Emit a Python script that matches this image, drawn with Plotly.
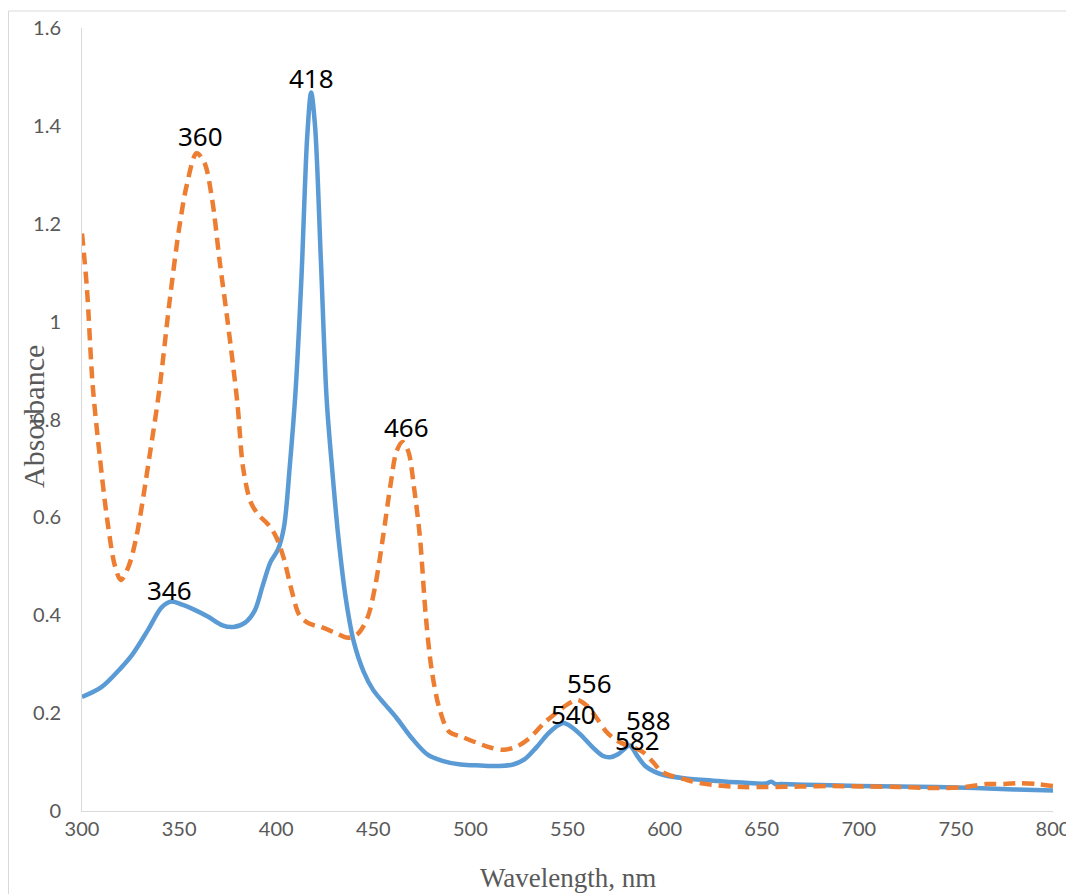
import plotly.graph_objects as go

# ---- data ----
blue_x = [300, 310, 320, 326, 334, 341, 346, 352, 358, 365, 372, 378, 384, 389, 393, 397, 401, 404, 407, 410,
          413, 416, 418, 420, 423, 426, 429, 432, 436, 440, 445, 450, 456, 462, 470, 478, 486, 495, 505, 515,
          522, 528, 534, 540, 544, 548, 552, 557, 563, 568, 572, 576, 579, 582, 586, 590, 595, 600, 610, 625,
          640, 652, 655, 657, 660, 680, 700, 720, 740, 760, 780, 800]
blue_y = [0.233, 0.253, 0.292, 0.320, 0.370, 0.416, 0.428, 0.421, 0.411, 0.397, 0.380, 0.376, 0.385, 0.410,
          0.460, 0.508, 0.535, 0.580, 0.705, 0.860, 1.090, 1.380, 1.468, 1.400, 1.126, 0.840, 0.690, 0.560,
          0.430, 0.345, 0.285, 0.247, 0.218, 0.190, 0.148, 0.115, 0.102, 0.095, 0.093, 0.092, 0.095, 0.106,
          0.130, 0.158, 0.172, 0.180, 0.172, 0.155, 0.130, 0.113, 0.110, 0.116, 0.126, 0.134, 0.112, 0.092,
          0.080, 0.073, 0.067, 0.062, 0.058, 0.056, 0.060, 0.055, 0.055, 0.053, 0.051, 0.050, 0.049, 0.047,
          0.044, 0.042]

orange_x = [300, 302.5, 305.5, 309, 313, 317, 320, 324, 328, 335, 340, 345, 350, 354, 359, 363, 367, 371, 375,
            380, 383, 387, 391, 396, 400, 404, 408, 412, 417, 423, 430, 437, 442, 447, 451, 455, 459, 462, 465,
            468, 471, 474, 477, 480, 484, 489, 496, 503, 510, 517, 524, 531, 538, 545, 550, 555, 560, 565, 570,
            575, 580, 585, 589, 594, 598, 602, 610, 618, 628, 640, 653, 670, 687, 705, 720, 738, 752, 766, 775,
            783, 792, 800]
orange_y = [1.180, 1.070, 0.870, 0.730, 0.595, 0.500, 0.472, 0.500, 0.560, 0.731, 0.866, 1.038, 1.190, 1.280,
            1.344, 1.325, 1.250, 1.120, 1.000, 0.834, 0.700, 0.630, 0.605, 0.585, 0.560, 0.515, 0.450, 0.400,
            0.383, 0.376, 0.365, 0.354, 0.362, 0.395, 0.460, 0.560, 0.670, 0.735, 0.754, 0.735, 0.660, 0.560,
            0.400, 0.290, 0.210, 0.162, 0.151, 0.140, 0.130, 0.125, 0.132, 0.151, 0.180, 0.203, 0.218, 0.227,
            0.215, 0.190, 0.162, 0.145, 0.135, 0.128, 0.120, 0.100, 0.082, 0.074, 0.065, 0.057, 0.052, 0.049,
            0.049, 0.050, 0.051, 0.050, 0.049, 0.047, 0.048, 0.055, 0.055, 0.057, 0.055, 0.051]

peak_labels = ["360", "418", "346", "466", "556", "540", "588", "582"]
peak_label_x = [361, 418, 345, 467, 561.5, 553, 591.5, 586]
peak_label_y = [1.379, 1.498, 0.452, 0.785, 0.262, 0.198, 0.186, 0.145]

x_ticks = [300, 350, 400, 450, 500, 550, 600, 650, 700, 750, 800]
y_ticks = [0, 0.2, 0.4, 0.6, 0.8, 1.0, 1.2, 1.4, 1.6]
y_tick_text = ["0", "0.2", "0.4", "0.6", "0.8", "1", "1.2", "1.4", "1.6"]

# ---- figure ----
fig = go.Figure()
fig.add_trace(go.Scatter(x=blue_x, y=blue_y, mode="lines",
                         line=dict(color="#5B9BD5", width=4.5, shape="spline", smoothing=0.9),
                         showlegend=False, hoverinfo="skip"))
fig.add_trace(go.Scatter(x=orange_x, y=orange_y, mode="lines",
                         line=dict(color="#ED7D31", width=4.5, dash="12px,7px", shape="spline", smoothing=0.9),
                         showlegend=False, hoverinfo="skip"))

annotations = []
for t, ax_, ay_ in zip(peak_labels, peak_label_x, peak_label_y):
    annotations.append(dict(x=ax_, y=ay_, xref="x", yref="y", text=t, showarrow=False,
                            font=dict(family="Noto Sans", size=26, color="#000000"),
                            xanchor="center", yanchor="middle"))

annotations.append(dict(x=0.5005, y=-0.0856, xref="paper", yref="paper", text="Wavelength, nm",
                        showarrow=False, xanchor="center", yanchor="middle",
                        font=dict(family="Liberation Serif", size=27, color="#595959")))
annotations.append(dict(x=(33 - 82) / 971, y=(811 - 417) / 783, xref="paper", yref="paper", text="Absorbance",
                        showarrow=False, xanchor="center", yanchor="middle", textangle=-90,
                        font=dict(family="Liberation Serif", size=30, color="#595959")))

# page body has an 8px margin, so the figure starts 8px in from the page's top-left corner
fig.update_layout(
    width=1066, height=886,
    margin=dict(l=74, r=21, t=20, b=83, autoexpand=False),
    paper_bgcolor="white", plot_bgcolor="white",
    annotations=annotations,
    shapes=[dict(type="rect", xref="paper", yref="paper",
                 x0=(8.5 - 82) / 971, x1=1.05, y0=-0.2, y1=(811 - 11) / 783,
                 line=dict(color="#d9d9d9", width=1), fillcolor="rgba(0,0,0,0)", layer="below")],
)
fig.update_xaxes(range=[300, 800], tickvals=x_ticks, ticks="", showgrid=False, zeroline=False,
                 showline=True, linecolor="#d9d9d9", linewidth=1, automargin=False,
                 tickfont=dict(family="Lato", size=20, color="#595959"))
fig.update_yaxes(range=[0, 1.6], tickvals=y_ticks, ticktext=y_tick_text, ticks="", showgrid=False,
                 zeroline=False, showline=True, linecolor="#d9d9d9", linewidth=1, automargin=False,
                 ticklabelstandoff=16,
                 tickfont=dict(family="Lato", size=20, color="#595959"))

fig.write_html("out.html")
